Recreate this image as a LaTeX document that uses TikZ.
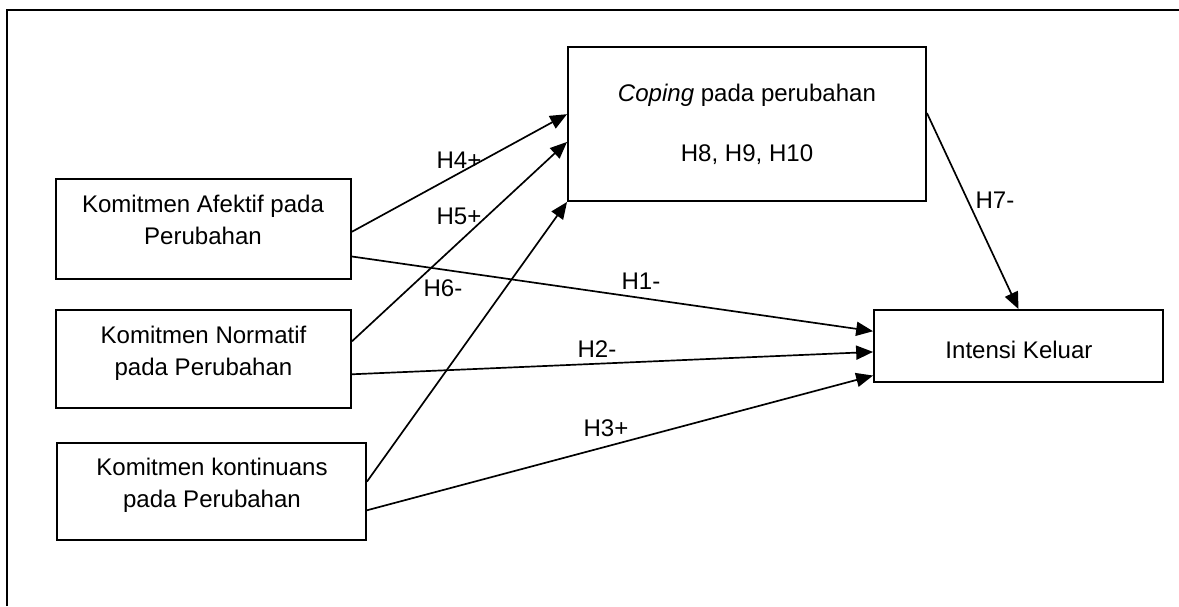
\documentclass[tikz,border=0pt]{standalone}
\usepackage{fontspec}
\setmainfont{Liberation Sans}
\usetikzlibrary{arrows.meta,calc}

\tikzset{
  var/.style={draw, line width=1.3pt, inner sep=0pt, align=center},
  txt/.style={align=center, inner sep=0pt},
  hyp/.style={inner sep=0pt, anchor=base},
  link/.style={-{Triangle[length=12pt,width=10pt]}, line width=1.2pt}
}

\begin{document}
\begin{tikzpicture}[x=0.025cm, y=-0.025cm, font=\fontsize{17.1}{22.8}\selectfont]
    \useasboundingbox (0,0) rectangle (1179,606);
    \draw[line width=1.4pt] (7,606) -- (7,10) -- (1179,10);

    % variables
    \node (afektif) [var, minimum width=7.375cm, minimum height=2.5cm] at (203.5,229) {};
    \node (normatif) [var, minimum width=7.375cm, minimum height=2.45cm] at (203.5,359) {};
    \node (kontinu) [var, minimum width=7.725cm, minimum height=2.425cm] at (211.5,491.5) {};
    \node (coping) [var, minimum width=8.95cm, minimum height=3.85cm] at (747,124)
        {\textit{Coping} pada perubahan\\[19.9pt]H8, H9, H10};
    \node (intensi) [var, minimum width=7.225cm, minimum height=1.8cm] at (1018.5,346) {};

    \node (afektifTxt) [txt] at (203,220) {Komitmen Afektif pada\\Perubahan};
    \node (normatifTxt) [txt] at (203.5,353) {Komitmen Normatif\\pada Perubahan};
    \node (kontinuTxt) [txt] at (212,485.5) {Komitmen kontinuans\\pada Perubahan};
    \node (intensiTxt) [txt] at (1019,349.5) {Intensi Keluar};

    % hypotheses
    \draw[link] ($(afektif.north east)!.527!(afektif.south east)$) -- ($(coping.north west)!.437!(coping.south west)$);
    \draw[link] ($(normatif.north east)!.323!(normatif.south east)$) -- ($(coping.north west)!.615!(coping.south west)$);
    \draw[link] ($(kontinu.north east)!.40!(kontinu.south east)$) -- (coping.south west);
    \draw[link] ($(afektif.north east)!.77!(afektif.south east)$) -- ($(intensi.north west)!.30!(intensi.south west)$);
    \draw[link] ($(normatif.north east)!.653!(normatif.south east)$) -- ($(intensi.north west)!.58!(intensi.south west)$);
    \draw[link] ($(kontinu.north east)!.69!(kontinu.south east)$) -- ($(intensi.north west)!.90!(intensi.south west)$);
    \draw[link] ($(coping.north east)!.43!(coping.south east)$) -- (intensi.north);

    \node (h4) [hyp] at (459,168) {H4+};
    \node (h5) [hyp] at (459,224) {H5+};
    \node (h6) [hyp] at (443,296) {H6-};
    \node (h1) [hyp] at (641,289) {H1-};
    \node (h2) [hyp] at (597,357) {H2-};
    \node (h3) [hyp] at (606,436) {H3+};
    \node (h7) [hyp] at (995,208) {H7-};
\end{tikzpicture}
\end{document}
